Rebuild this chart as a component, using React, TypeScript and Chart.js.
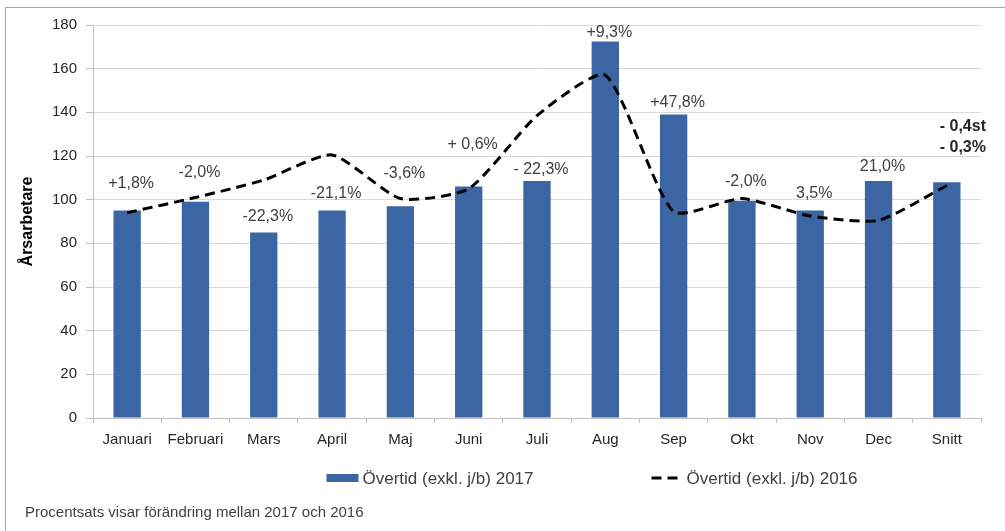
import React, { useEffect, useRef } from "react";
import { Chart, registerables } from "chart.js";

Chart.register(...registerables);

const categories = ["Januari", "Februari", "Mars", "April", "Maj", "Juni", "Juli", "Aug", "Sep", "Okt", "Nov", "Dec", "Snitt"];
const values2017 = [95, 99, 85, 95, 97, 106, 108.5, 172.5, 139, 99.5, 95, 108.5, 108];
const values2016 = [94, 101, 109, 120.5, 100.5, 105, 138.5, 157, 94.5, 100.5, 92.5, 90.5, 106.5];
const changeLabels = [["+1,8%"], ["-2,0%"], ["-22,3%"], ["-21,1%"], ["-3,6%"], ["+ 0,6%"], ["- 22,3%"], ["+9,3%"], ["+47,8%"], ["-2,0%"], ["3,5%"], ["21,0%"], ["- 0,4st", "- 0,3%"]];
const labelAnchors = [107.3, 112.4, 92.2, 102.9, 111.8, 125, 113.6, 176.4, 144.3, 108.1, 102.6, 115, 133.3];
const seriesNames = ["Övertid (exkl. j/b) 2017", "Övertid (exkl. j/b) 2016"];
const yAxisTitle = "Årsarbetare";
const footnote = "Procentsats visar förändring mellan 2017 och 2016";

const FONT = "'Liberation Sans', Arial, sans-serif";
const BAR_COLOR = "#3B66A3";

const overlayPlugin = {
  id: "overlay",
  beforeDraw(chart: any) {
    const ctx = chart.ctx;
    ctx.save();
    ctx.fillStyle = "#ffffff";
    ctx.fillRect(0, 0, chart.width, chart.height);
    ctx.strokeStyle = "#A6A6A6";
    ctx.lineWidth = 1;
    ctx.strokeRect(5.5, 7.5, chart.width + 20, chart.height + 20);
    ctx.restore();
  },
  afterDraw(chart: any) {
    const ctx = chart.ctx;
    const xs = chart.scales.x;
    const ys = chart.scales.y;
    ctx.save();
    ctx.textAlign = "center";
    ctx.textBaseline = "middle";
    changeLabels.forEach((lines, i) => {
      const x = xs.getPixelForValue(i);
      const y = ys.getPixelForValue(labelAnchors[i]);
      const bold = lines.length > 1;
      ctx.font = (bold ? "bold " : "") + "16px " + FONT;
      ctx.fillStyle = bold ? "#262626" : "#404040";
      lines.forEach((t, k) => {
        ctx.fillText(t, x + (bold ? 16 : 4), y + k * 21);
      });
    });

    // legend
    const ds = chart.data.datasets;
    ctx.font = "17px " + FONT;
    ctx.textAlign = "left";
    const legendY = 478;
    const w0 = ctx.measureText(ds[0].label).width;
    const w1 = ctx.measureText(ds[1].label).width;
    const sw = 32;
    const gap = 118;
    const total = sw + 4 + w0 + gap + sw + 3 + w1;
    let lx = 592 - total / 2;
    ctx.fillStyle = BAR_COLOR;
    ctx.fillRect(lx, legendY - 4, sw, 8);
    ctx.fillStyle = "#404040";
    ctx.fillText(ds[0].label, lx + sw + 4, legendY + 1);
    lx += sw + 4 + w0 + gap;
    ctx.strokeStyle = "#000000";
    ctx.lineWidth = 3;
    ctx.setLineDash([10, 6]);
    ctx.beginPath();
    ctx.moveTo(lx, legendY);
    ctx.lineTo(lx + sw, legendY);
    ctx.stroke();
    ctx.setLineDash([]);
    ctx.fillStyle = "#404040";
    ctx.fillText(ds[1].label, lx + sw + 3, legendY + 1);

    // footnote
    ctx.font = "15px " + FONT;
    ctx.fillStyle = "#404040";
    ctx.fillText(footnote, 25, 513);
    ctx.restore();
  },
};

export default function App() {
  const canvasRef = useRef<HTMLCanvasElement | null>(null);

  useEffect(() => {
    if (!canvasRef.current) return;
    const chart = new Chart(canvasRef.current, {
      type: "bar",
      data: {
        labels: categories,
        datasets: [
          {
            type: "bar",
            label: seriesNames[0],
            data: values2017,
            backgroundColor: BAR_COLOR,
            borderWidth: 0,
            barPercentage: 0.8,
            categoryPercentage: 0.5,
            order: 2,
          },
          {
            type: "line",
            label: seriesNames[1],
            data: values2016,
            borderColor: "#000000",
            borderWidth: 3,
            borderDash: [10, 6],
            pointRadius: 0,
            tension: 0.2,
            fill: false,
            order: 1,
          },
        ],
      },
      options: {
        animation: false,
        responsive: false,
        layout: { padding: { left: 0, right: 24, top: 25, bottom: 0 } },
        plugins: { legend: { display: false }, tooltip: { enabled: false } },
        scales: {
          x: {
            grid: { display: true, drawOnChartArea: false, drawTicks: true, tickLength: 5, color: "#BFBFBF", offset: true },
            border: { color: "#BFBFBF" },
            ticks: { color: "#262626", font: { family: FONT, size: 15 }, padding: 8 },
            afterFit(scale: any) {
              scale.height = 113;
            },
          },
          y: {
            min: 0,
            max: 180,
            ticks: { stepSize: 20, color: "#262626", font: { family: FONT, size: 15 }, padding: 9 },
            grid: { color: "#D9D9D9", tickLength: 7, tickColor: "#BFBFBF" },
            border: { color: "#BFBFBF" },
            title: { display: true, text: yAxisTitle, color: "#000000", font: { family: FONT, size: 16, weight: "bold" }, padding: { top: 18, bottom: 0 } },
            afterFit(scale: any) {
              scale.width = 93;
            },
          },
        },
      },
      plugins: [overlayPlugin],
    } as any);
    return () => chart.destroy();
  }, []);

  return (
    <div style={{ position: "fixed", left: 0, top: 0, width: 1005, height: 531, background: "#fff" }}>
      <canvas ref={canvasRef} width={1005} height={531} style={{ width: 1005, height: 531, display: "block" }} />
    </div>
  );
}
